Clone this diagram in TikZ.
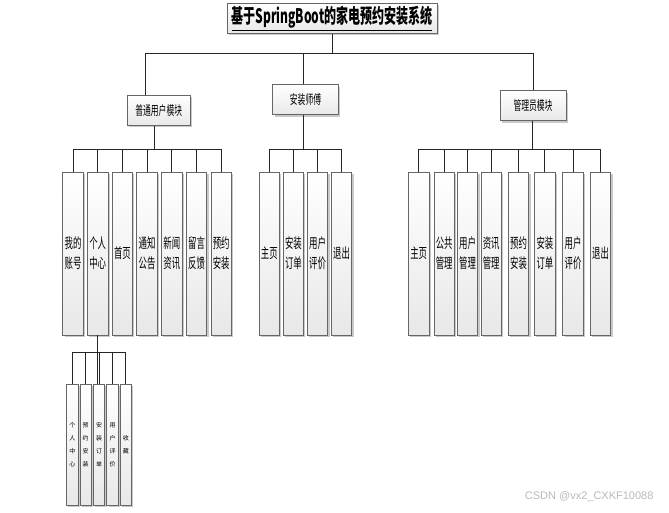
\documentclass[tikz,border=0pt]{standalone}
\usepackage{fontspec}
\newfontfamily\cjk[FakeStretch=0.6]{Noto Sans CJK SC}
\newfontfamily\cjksmall{Noto Sans CJK SC}
\setsansfont{Liberation Sans}
\usetikzlibrary{shadows}
\tikzset{every node/.append style={transform shape=false}}
\tikzset{
  box/.style={draw=gray!80!black, line width=0.9pt, top color=white, bottom color=gray!18,
    inner sep=0pt, align=center,
    drop shadow={shadow xshift=1.8pt, shadow yshift=-1.8pt, fill=gray!60, opacity=.7}},
  head/.style={box, minimum height=30pt, font=\cjk\fontsize{13}{15}\selectfont},
  leaf/.style={box, minimum width=20.5pt, minimum height=163pt, font=\cjk\fontsize{14}{20}\selectfont},
  subleaf/.style={box, minimum width=11.5pt, minimum height=121pt, font=\cjksmall\fontsize{6}{13}\selectfont},
  link/.style={draw=black!85, line width=0.9pt}
}

\begin{document}
\begin{tikzpicture}[x=1pt, y=-1pt]
  \useasboundingbox (0,0) rectangle (669,512);

  \node[box, minimum width=210pt, minimum height=30pt,
        font=\cjk\bfseries\fontsize{20}{22}\selectfont] (title) at (332,18.3)
        {\underline{基于SpringBoot的家电预约安装系统}};

  \node[head, minimum width=62.7pt] (user) at (158.7,110.5) {普通用户模块};
  \node[head, minimum width=65.6pt] (inst) at (305.5,99.7) {安装师傅};
  \node[head, minimum width=66pt] (admin) at (533,105.7) {管理员模块};

  % leaves
  \foreach \t [count=\i] in {我的\\账号, 个人\\中心, 首页, 通知\\公告, 新闻\\资讯, 留言\\反馈, 预约\\安装}
    \node[leaf] (u\i) at ({73+24.7*(\i-1)},253.5) {\t};
  \foreach \t [count=\i] in {主页, 安装\\订单, 用户\\评价, 退出}
    \node[leaf] (i\i) at ({269.3+24.1*(\i-1)},253.5) {\t};
  \foreach \x/\t [count=\i] in {418.7/主页, 444.2/公共\\管理, 467.5/用户\\管理, 491.2/资讯\\管理,
                               518.5/预约\\安装, 544.9/安装\\订单, 573/用户\\评价, 600.5/退出}
    \node[leaf] (a\i) at (\x,253.5) {\t};
  \foreach \t [count=\i] in {个\\人\\中\\心, 预\\约\\安\\装, 安\\装\\订\\单, 用\\户\\评\\价, 收\\藏}
    \node[subleaf] (s\i) at ({72.3+13.4*(\i-1)},444.5) {\t};

  \coordinate (busA) at (0,53);
  \coordinate (busB) at (0,149.3);
  \coordinate (busC) at (0,352);

  \draw[link] (title.south) -- (title.south |- busA);
  \draw[link] ([xshift=-13pt]user.north) |- (admin.north |- busA) -- (admin.north);
  \draw[link] ([xshift=-2.5pt]inst.north) -- ([xshift=-2.5pt]inst.north |- busA);

  \draw[link] ([xshift=-4.4pt]user.south) -- ([xshift=-4.4pt]user.south |- busB);
  \draw[link] (u1.north) |- (u7.north |- busB) -- (u7.north);
  \foreach \i in {2,...,6}
    \draw[link] (u\i.north) -- (u\i.north |- busB);

  \draw[link] ([xshift=-2.5pt]inst.south) -- ([xshift=-2.5pt]inst.south |- busB);
  \draw[link] (i1.north) |- (i4.north |- busB) -- (i4.north);
  \foreach \i in {2,3}
    \draw[link] (i\i.north) -- (i\i.north |- busB);

  \draw[link] ([xshift=-1pt]admin.south) -- ([xshift=-1pt]admin.south |- busB);
  \draw[link] (a1.north) |- (a8.north |- busB) -- (a8.north);
  \foreach \i in {2,...,7}
    \draw[link] (a\i.north) -- (a\i.north |- busB);

  \draw[link] (s3.north -| u2.south) -- (u2.south);
  \draw[link] (s3.north) -- (s3.north |- busC);
  \draw[link] (s1.north) |- (s5.north |- busC) -- (s5.north);
  \foreach \i in {2,4}
    \draw[link] (s\i.north) -- (s\i.north |- busC);

  \node[font=\sffamily\fontsize{11}{12}\selectfont, text=gray!55, anchor=east] (mark)
    at (657,497) {CSDN @vx2\_CXKF10088};
\end{tikzpicture}
\end{document}
